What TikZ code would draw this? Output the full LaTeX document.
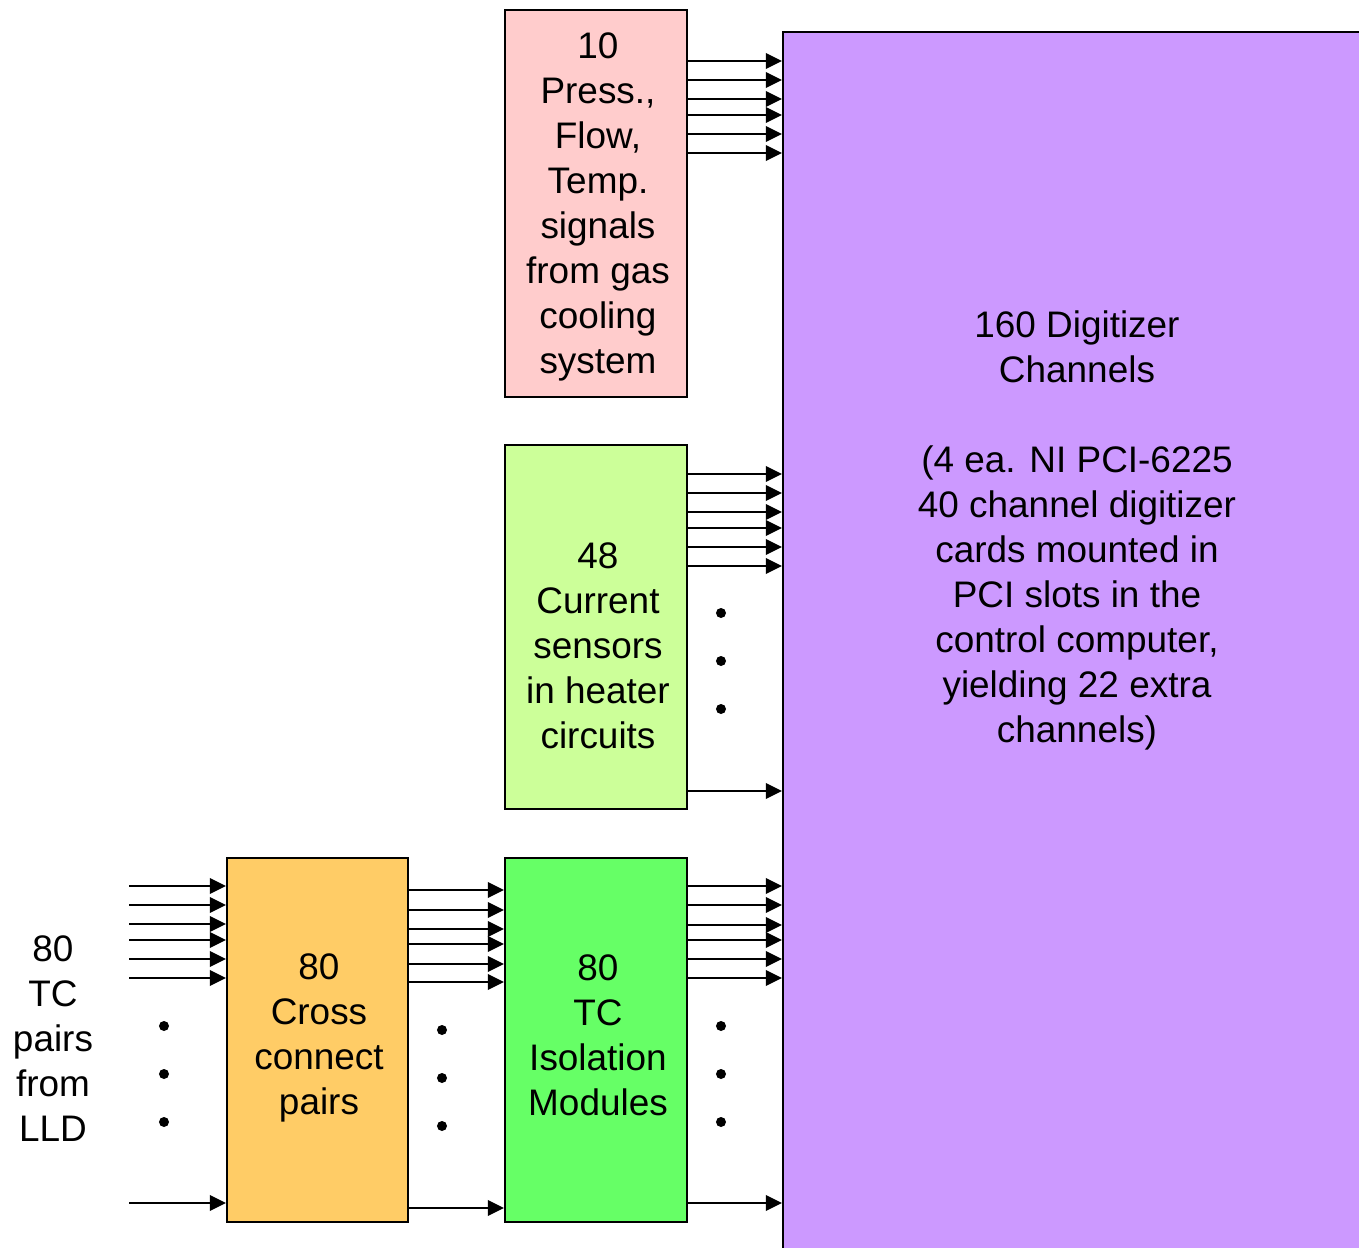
\documentclass[tikz,border=0pt]{standalone}
\usepackage{fontspec}
\setmainfont{Liberation Sans}
\usetikzlibrary{arrows.meta}
\definecolor{gaspink}{RGB}{255,204,204}
\definecolor{heatgreen}{RGB}{204,255,153}
\definecolor{crossorange}{RGB}{255,204,102}
\definecolor{isogreen}{RGB}{102,255,102}
\definecolor{digpurple}{RGB}{204,153,255}
\tikzset{
  blk/.style={draw,line width=0.6pt,anchor=north west,minimum width=1.82cm,inner sep=0pt},
  sig/.style={line width=0.6pt,-{Triangle[length=4.6pt,width=4.4pt]}},
  lbl/.style={align=center,inner sep=0pt}
}

\begin{document}
\begin{tikzpicture}[x=0.01cm,y=-0.01cm,font=\fontsize{10.5}{12.8}\selectfont]
  \useasboundingbox (0,0) rectangle (1359,1248);
  \clip (0,0) rectangle (1359,1248);
  % boxes
  \node[blk,fill=digpurple,minimum width=6cm,minimum height=12.5cm] (dig) at (782,31) {};
  \node[blk,fill=gaspink,minimum height=3.87cm] (gas) at (504,9) {};
  \node[blk,fill=heatgreen,minimum height=3.64cm] (heat) at (504,444) {};
  \node[blk,fill=crossorange,minimum width=1.81cm,minimum height=3.64cm] (cross) at (226,857) {};
  \node[blk,fill=isogreen,minimum height=3.64cm] (iso) at (504,857) {};
  % texts
  \node[lbl] (gastxt) at (598,207) {10\\Press.,\\Flow,\\Temp.\\signals\\from gas\\cooling\\system};
  \node[lbl] (heattxt) at (598,646) {48\\Current\\sensors\\in heater\\circuits};
  \node[lbl] (crosstxt) at (319,1038) {80\\Cross\\connect\\pairs};
  \node[lbl] (isotxt) at (598,1035) {80\\TC\\Isolation\\Modules};
  \node[lbl] (lldtxt) at (53,1039) {80\\TC\\pairs\\from\\LLD};
  \node[lbl] (digtxt) at (1077,530) {160 Digitizer\\Channels\\[12.8pt](4 ea. NI PCI-6225\\40 channel digitizer\\cards mounted in\\PCI slots in the\\control computer,\\yielding 22 extra\\channels)};
  \coordinate (lld) at (129,0);
  % signal lines
  \foreach \y in {61,80,99,115,134,153} \draw[sig] (gas.east |- 0,\y) -- (dig.west |- 0,\y);
  \foreach \y in {474,493,512,528,547,566,791} \draw[sig] (heat.east |- 0,\y) -- (dig.west |- 0,\y);
  \foreach \y in {886,905,924,940,959,978,1203} \draw[sig] (lld |- 0,\y) -- (cross.west |- 0,\y);
  \foreach \y in {890,910,929,944,964,982,1208} \draw[sig] (cross.east |- 0,\y) -- (iso.west |- 0,\y);
  \foreach \y in {886,905,925,940,959,978,1203} \draw[sig] (iso.east |- 0,\y) -- (dig.west |- 0,\y);
  % dots
  \foreach \y in {613,661,709} \fill (721,\y) circle[radius=0.05cm];
  \foreach \y in {1026,1074,1122} {\fill (164,\y) circle[radius=0.05cm]; \fill (721,\y) circle[radius=0.05cm];}
  \foreach \y in {1030,1078,1126} \fill (442,\y) circle[radius=0.05cm];
\end{tikzpicture}
\end{document}
